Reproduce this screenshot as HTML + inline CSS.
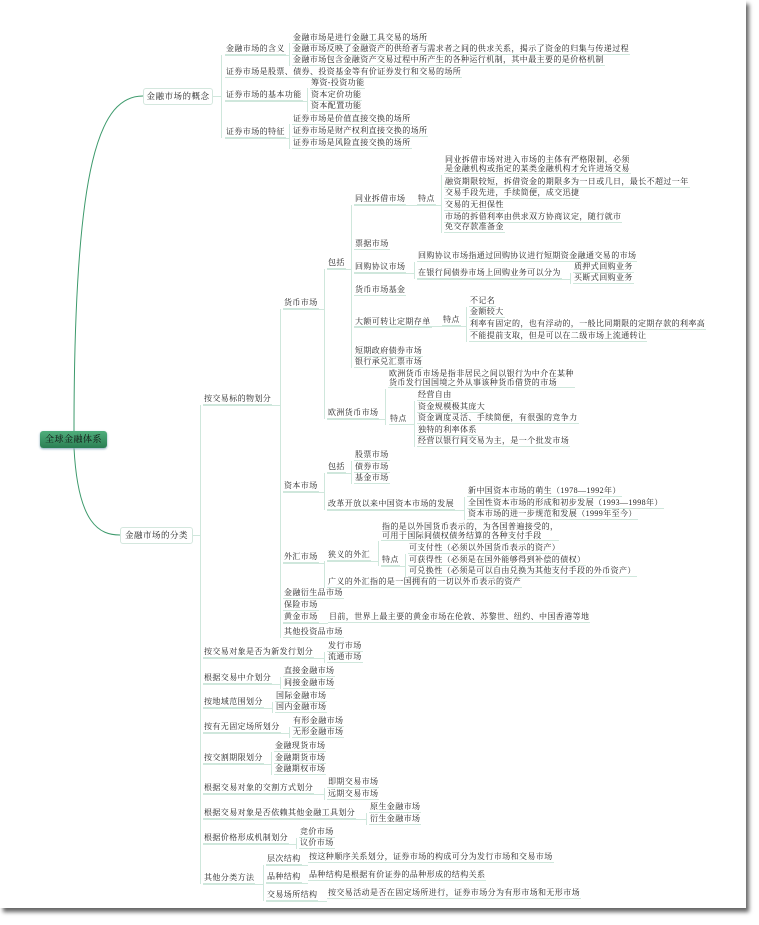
<!DOCTYPE html>
<html><head><meta charset="utf-8">
<style>
html,body{margin:0;padding:0;width:759px;height:925px;background:#fff;overflow:hidden}
#paper{position:absolute;left:0;top:0;width:746px;height:908px;background:#fff;box-shadow:3px 4px 4px #666}
.t{position:absolute;font-family:"Liberation Serif","Noto Serif CJK SC",serif;font-size:8px;line-height:11px;letter-spacing:0.4px;color:#222;white-space:nowrap;padding:0 1px;border-bottom:1px solid #cfe7dc;background:transparent}
.v{position:absolute;width:1px;background:#cfe7dc}
.h{position:absolute;height:1px;background:#cfe7dc}
.box{position:absolute;font-family:"Liberation Serif","Noto Serif CJK SC",serif;font-size:8.5px;letter-spacing:0.5px;color:#222;border:1px solid #d4e7de;border-radius:3px;background:#fff;text-align:center;box-sizing:border-box}
.root{position:absolute;left:40px;top:431px;width:67px;height:17px;border-radius:3px;background:linear-gradient(#4fae7c,#2a7f53);font-family:"Liberation Serif","Noto Serif CJK SC",serif;font-size:9px;letter-spacing:0.5px;line-height:17px;text-align:center;color:#111;box-shadow:0 1px 2px #8ab}
</style></head><body>
<div id="paper"></div>
<svg style="position:absolute;left:0;top:0" width="759" height="925">
<path d="M74,431 C74,160 100,96 143,96" fill="none" stroke="#3d9a6c" stroke-width="1"/>
<path d="M74,448 C78,525 100,535 120,535" fill="none" stroke="#3d9a6c" stroke-width="1"/>
</svg>

<!-- connectors -->
<div class="h" style="left:212px;top:96px;width:9px"></div>
<div class="v" style="left:221px;top:55px;height:83px"></div>
<div class="h" style="left:225px;top:55px;width:64px"></div>
<div class="v" style="left:289px;top:43px;height:23px"></div>
<div class="h" style="left:225px;top:101px;width:82px"></div>
<div class="v" style="left:307px;top:88px;height:24px"></div>
<div class="h" style="left:225px;top:138px;width:64px"></div>
<div class="v" style="left:289px;top:124px;height:25px"></div>

<div class="h" style="left:193px;top:535px;width:7px"></div>
<div class="v" style="left:200px;top:405px;height:479px"></div>
<div class="h" style="left:203px;top:405px;width:77px"></div>
<div class="v" style="left:280px;top:309px;height:329px"></div>
<div class="h" style="left:283px;top:309px;width:41px"></div>
<div class="v" style="left:324px;top:269px;height:150px"></div>
<div class="h" style="left:327px;top:269px;width:24px"></div>
<div class="v" style="left:351px;top:205px;height:163px"></div>
<div class="h" style="left:354px;top:205px;width:87px"></div>
<div class="v" style="left:441px;top:175px;height:58px"></div>
<div class="h" style="left:354px;top:273px;width:60px"></div>
<div class="v" style="left:414px;top:262px;height:17px"></div>
<div class="h" style="left:417px;top:279px;width:153px"></div>
<div class="v" style="left:570px;top:273px;height:11px"></div>
<div class="h" style="left:354px;top:326px;width:112px"></div>
<div class="v" style="left:466px;top:307px;height:35px"></div>
<div class="h" style="left:327px;top:419px;width:58px"></div>
<div class="v" style="left:385px;top:389px;height:36px"></div>
<div class="h" style="left:389px;top:424px;width:25px"></div>
<div class="v" style="left:414px;top:401px;height:46px"></div>

<div class="h" style="left:283px;top:492px;width:41px"></div>
<div class="v" style="left:324px;top:473px;height:37px"></div>
<div class="h" style="left:327px;top:473px;width:24px"></div>
<div class="v" style="left:351px;top:461px;height:23px"></div>
<div class="h" style="left:327px;top:510px;width:137px"></div>
<div class="v" style="left:464px;top:497px;height:23px"></div>

<div class="h" style="left:283px;top:563px;width:41px"></div>
<div class="v" style="left:324px;top:561px;height:27px"></div>
<div class="h" style="left:327px;top:561px;width:51px"></div>
<div class="v" style="left:378px;top:541px;height:25px"></div>
<div class="h" style="left:381px;top:566px;width:24px"></div>
<div class="v" style="left:405px;top:554px;height:23px"></div>
<div class="h" style="left:283px;top:623px;width:45px"></div>

<div class="h" style="left:203px;top:658px;width:121px"></div>
<div class="v" style="left:324px;top:652px;height:11px"></div>
<div class="h" style="left:203px;top:684px;width:77px"></div>
<div class="v" style="left:280px;top:677px;height:12px"></div>
<div class="h" style="left:203px;top:708px;width:69px"></div>
<div class="v" style="left:272px;top:702px;height:11px"></div>
<div class="h" style="left:203px;top:733px;width:86px"></div>
<div class="v" style="left:289px;top:727px;height:11px"></div>
<div class="h" style="left:203px;top:764px;width:68px"></div>
<div class="v" style="left:271px;top:752px;height:23px"></div>
<div class="h" style="left:203px;top:794px;width:121px"></div>
<div class="v" style="left:324px;top:788px;height:12px"></div>
<div class="h" style="left:203px;top:819px;width:163px"></div>
<div class="v" style="left:366px;top:813px;height:12px"></div>
<div class="h" style="left:203px;top:844px;width:93px"></div>
<div class="v" style="left:296px;top:838px;height:11px"></div>
<div class="h" style="left:203px;top:884px;width:60px"></div>
<div class="v" style="left:263px;top:865px;height:36px"></div>
<div class="h" style="left:266px;top:865px;width:42px"></div>
<div class="h" style="left:266px;top:883px;width:42px"></div>
<div class="h" style="left:266px;top:901px;width:61px"></div>

<!-- nodes -->
<div class="root">全球金融体系</div>
<div class="box" style="left:143px;top:88px;width:70px;height:17px;line-height:15px">金融市场的概念</div>
<div class="box" style="left:120px;top:527px;width:73px;height:17px;line-height:15px">金融市场的分类</div>

<div class="t" style="left:225px;top:43px">金融市场的含义</div>
<div class="t" style="left:292px;top:32px">金融市场是进行金融工具交易的场所</div>
<div class="t" style="left:292px;top:43px">金融市场反映了金融资产的供给者与需求者之间的供求关系，揭示了资金的归集与传递过程</div>
<div class="t" style="left:292px;top:54px">金融市场包含金融资产交易过程中所产生的各种运行机制，其中最主要的是价格机制</div>
<div class="t" style="left:225px;top:66px">证券市场是股票、债券、投资基金等有价证券发行和交易的场所</div>
<div class="t" style="left:225px;top:89px">证券市场的基本功能</div>
<div class="t" style="left:310px;top:77px">筹资-投资功能</div>
<div class="t" style="left:310px;top:89px">资本定价功能</div>
<div class="t" style="left:310px;top:100px">资本配置功能</div>
<div class="t" style="left:225px;top:126px">证券市场的特征</div>
<div class="t" style="left:292px;top:113px">证券市场是价值直接交换的场所</div>
<div class="t" style="left:292px;top:125px">证券市场是财产权利直接交换的场所</div>
<div class="t" style="left:292px;top:137px">证券市场是风险直接交换的场所</div>

<div class="t" style="left:203px;top:393px">按交易标的物划分</div>
<div class="t" style="left:283px;top:297px">货币市场</div>
<div class="t" style="left:327px;top:257px">包括</div>
<div class="t" style="left:354px;top:193px">同业拆借市场</div>
<div class="t" style="left:417px;top:193px">特点</div>
<div class="t" style="left:444px;top:156px;line-height:8.5px">同业拆借市场对进入市场的主体有严格限制，必须<br>是金融机构或指定的某类金融机构才允许进场交易</div>
<div class="t" style="left:444px;top:176px">融资期限较短，拆借资金的期限多为一日或几日，最长不超过一年</div>
<div class="t" style="left:444px;top:187px">交易手段先进，手续简便，成交迅捷</div>
<div class="t" style="left:444px;top:199px">交易的无担保性</div>
<div class="t" style="left:444px;top:211px">市场的拆借利率由供求双方协商议定，随行就市</div>
<div class="t" style="left:444px;top:221px">免交存款准备金</div>
<div class="t" style="left:354px;top:238px">票据市场</div>
<div class="t" style="left:354px;top:261px">回购协议市场</div>
<div class="t" style="left:417px;top:250px">回购协议市场指通过回购协议进行短期资金融通交易的市场</div>
<div class="t" style="left:417px;top:267px">在银行间债券市场上回购业务可以分为</div>
<div class="t" style="left:573px;top:261px">质押式回购业务</div>
<div class="t" style="left:573px;top:272px">买断式回购业务</div>
<div class="t" style="left:354px;top:284px">货币市场基金</div>
<div class="t" style="left:354px;top:316px">大额可转让定期存单</div>
<div class="t" style="left:442px;top:314px">特点</div>
<div class="t" style="left:469px;top:295px">不记名</div>
<div class="t" style="left:469px;top:306px">金额较大</div>
<div class="t" style="left:469px;top:318px">利率有固定的，也有浮动的，一般比同期限的定期存款的利率高</div>
<div class="t" style="left:469px;top:330px">不能提前支取，但是可以在二级市场上流通转让</div>
<div class="t" style="left:354px;top:345px">短期政府债券市场</div>
<div class="t" style="left:354px;top:356px">银行承兑汇票市场</div>
<div class="t" style="left:327px;top:407px">欧洲货币市场</div>
<div class="t" style="left:388px;top:370px;line-height:8.5px">欧洲货币市场是指非居民之间以银行为中介在某种<br>货币发行国国境之外从事该种货币借贷的市场</div>
<div class="t" style="left:389px;top:413px">特点</div>
<div class="t" style="left:417px;top:389px">经营自由</div>
<div class="t" style="left:417px;top:401px">资金规模极其庞大</div>
<div class="t" style="left:417px;top:412px">资金调度灵活、手续简便，有很强的竞争力</div>
<div class="t" style="left:417px;top:424px">独特的利率体系</div>
<div class="t" style="left:417px;top:435px">经营以银行间交易为主，是一个批发市场</div>

<div class="t" style="left:283px;top:480px">资本市场</div>
<div class="t" style="left:327px;top:461px">包括</div>
<div class="t" style="left:354px;top:449px">股票市场</div>
<div class="t" style="left:354px;top:461px">债券市场</div>
<div class="t" style="left:354px;top:472px">基金市场</div>
<div class="t" style="left:327px;top:498px">改革开放以来中国资本市场的发展</div>
<div class="t" style="left:467px;top:485px">新中国资本市场的萌生（1978—1992年）</div>
<div class="t" style="left:467px;top:497px">全国性资本市场的形成和初步发展（1993—1998年）</div>
<div class="t" style="left:467px;top:508px">资本市场的进一步规范和发展（1999年至今）</div>
<div class="t" style="left:283px;top:551px">外汇市场</div>
<div class="t" style="left:327px;top:549px">狭义的外汇</div>
<div class="t" style="left:381px;top:523px;line-height:8.5px">指的是以外国货币表示的，为各国普遍接受的，<br>可用于国际间债权债务结算的各种支付手段</div>
<div class="t" style="left:381px;top:554px">特点</div>
<div class="t" style="left:408px;top:542px">可支付性（必须以外国货币表示的资产）</div>
<div class="t" style="left:408px;top:554px">可获得性（必须是在国外能够得到补偿的债权）</div>
<div class="t" style="left:408px;top:565px">可兑换性（必须是可以自由兑换为其他支付手段的外币资产）</div>
<div class="t" style="left:327px;top:576px">广义的外汇指的是一国拥有的一切以外币表示的资产</div>
<div class="t" style="left:283px;top:587px">金融衍生品市场</div>
<div class="t" style="left:283px;top:599px">保险市场</div>
<div class="t" style="left:283px;top:611px">黄金市场</div>
<div class="t" style="left:328px;top:611px">目前，世界上最主要的黄金市场在伦敦、苏黎世、纽约、中国香港等地</div>
<div class="t" style="left:283px;top:626px">其他投资品市场</div>

<div class="t" style="left:203px;top:646px">按交易对象是否为新发行划分</div>
<div class="t" style="left:327px;top:640px">发行市场</div>
<div class="t" style="left:327px;top:651px">流通市场</div>
<div class="t" style="left:203px;top:672px">根据交易中介划分</div>
<div class="t" style="left:283px;top:665px">直接金融市场</div>
<div class="t" style="left:283px;top:677px">间接金融市场</div>
<div class="t" style="left:203px;top:696px">按地域范围划分</div>
<div class="t" style="left:275px;top:690px">国际金融市场</div>
<div class="t" style="left:275px;top:701px">国内金融市场</div>
<div class="t" style="left:203px;top:721px">按有无固定场所划分</div>
<div class="t" style="left:292px;top:715px">有形金融市场</div>
<div class="t" style="left:292px;top:726px">无形金融市场</div>
<div class="t" style="left:203px;top:752px">按交割期限划分</div>
<div class="t" style="left:274px;top:740px">金融现货市场</div>
<div class="t" style="left:274px;top:752px">金融期货市场</div>
<div class="t" style="left:274px;top:763px">金融期权市场</div>
<div class="t" style="left:203px;top:782px">根据交易对象的交割方式划分</div>
<div class="t" style="left:327px;top:776px">即期交易市场</div>
<div class="t" style="left:327px;top:788px">远期交易市场</div>
<div class="t" style="left:203px;top:807px">根据交易对象是否依赖其他金融工具划分</div>
<div class="t" style="left:369px;top:801px">原生金融市场</div>
<div class="t" style="left:369px;top:813px">衍生金融市场</div>
<div class="t" style="left:203px;top:832px">根据价格形成机制划分</div>
<div class="t" style="left:299px;top:826px">竞价市场</div>
<div class="t" style="left:299px;top:837px">议价市场</div>
<div class="t" style="left:203px;top:872px">其他分类方法</div>
<div class="t" style="left:266px;top:853px">层次结构</div>
<div class="t" style="left:308px;top:851px">按这种顺序关系划分，证券市场的构成可分为发行市场和交易市场</div>
<div class="t" style="left:266px;top:871px">品种结构</div>
<div class="t" style="left:308px;top:869px">品种结构是根据有价证券的品种形成的结构关系</div>
<div class="t" style="left:266px;top:889px">交易场所结构</div>
<div class="t" style="left:327px;top:887px">按交易活动是否在固定场所进行，证券市场分为有形市场和无形市场</div>
</body></html>
